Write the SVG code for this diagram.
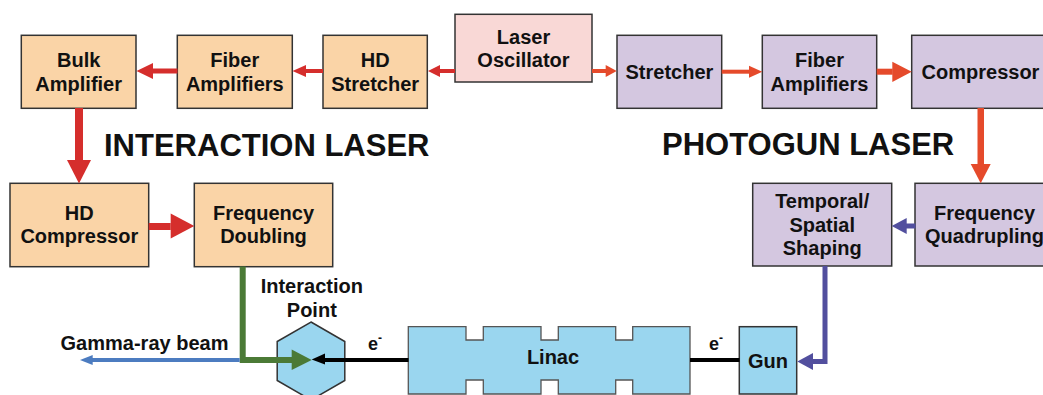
<svg xmlns="http://www.w3.org/2000/svg" width="1043" height="395" viewBox="0 0 1043 395">
<style>
.box{stroke:#333;stroke-width:1.5}
.or{fill:#fad4a7}
.pu{fill:#d4c7e0}
.pk{fill:#f9d8d6}
.bl{fill:#9ad6ef}
text{font-family:"Liberation Sans",Arial,sans-serif;font-weight:bold;fill:#111}
.t{font-size:20px;text-anchor:middle}
.big{font-size:31px}
</style>
<rect width="1043" height="395" fill="#fff"/>
<g id="bulk-amplifier"><rect class="box or" x="21.3" y="35.3" width="114.7" height="73"/><text class="t" x="78.7" y="67">Bulk</text><text class="t" x="78.7" y="91">Amplifier</text></g>
<g id="fiber-amplifiers-int"><rect class="box or" x="177.3" y="35.3" width="115" height="73"/><text class="t" x="234.8" y="67">Fiber</text><text class="t" x="234.8" y="91">Amplifiers</text></g>
<g id="hd-stretcher"><rect class="box or" x="323" y="35.3" width="104.3" height="73"/><text class="t" x="375.2" y="67">HD</text><text class="t" x="375.2" y="91">Stretcher</text></g>
<g id="laser-oscillator"><rect class="box pk" x="455" y="14.3" width="137" height="67.7"/><text class="t" x="523.5" y="44">Laser</text><text class="t" x="523.5" y="67">Oscillator</text></g>
<g id="stretcher"><rect class="box pu" x="617" y="35.3" width="104.7" height="73"/><text class="t" x="669.4" y="79">Stretcher</text></g>
<g id="fiber-amplifiers-pg"><rect class="box pu" x="762.3" y="35.3" width="114.4" height="73"/><text class="t" x="819.5" y="67">Fiber</text><text class="t" x="819.5" y="91">Amplifiers</text></g>
<g id="compressor"><rect class="box pu" x="911.7" y="35.3" width="139" height="73"/><text class="t" x="980.5" y="78.5">Compressor</text></g>
<g id="hd-compressor"><rect class="box or" x="10" y="183.3" width="138.7" height="83.4"/><text class="t" x="79.3" y="220">HD</text><text class="t" x="79.3" y="243.3">Compressor</text></g>
<g id="frequency-doubling"><rect class="box or" x="194.3" y="183.3" width="138.4" height="83.4"/><text class="t" x="263.5" y="220">Frequency</text><text class="t" x="263.5" y="243.3">Doubling</text></g>
<g id="temporal-spatial-shaping"><rect class="box pu" x="752.7" y="183.3" width="139" height="82.7"/><text class="t" x="822.2" y="208.3">Temporal/</text><text class="t" x="822.2" y="231.5">Spatial</text><text class="t" x="822.2" y="254.5">Shaping</text></g>
<g id="frequency-quadrupling"><rect class="box pu" x="915" y="183.3" width="140" height="82.7"/><text class="t" x="984.5" y="220">Frequency</text><text class="t" x="984.5" y="243.3">Quadrupling</text></g>
<g id="interaction-point"><polygon class="box bl" points="311,322 344.8,341.5 344.8,380.5 311,400 277.2,380.5 277.2,341.5"/><text class="t" x="311.8" y="293.3">Interaction</text><text class="t" x="311.8" y="316.7">Point</text></g>
<g id="linac"><path class="bl" stroke="#555" stroke-width="1.3" d="M408.3,326.7 H466 V340 H483.3 V326.7 H541 V340 H558.3 V326.7 H615.7 V340 H632.7 V326.7 H690 V394 H632.7 V380 H615.7 V394 H558.3 V380 H541 V394 H483.3 V380 H466 V394 H408.3 Z"/><text class="t" x="553" y="364">Linac</text></g>
<g id="gun"><rect class="box bl" x="739.3" y="326.7" width="57.4" height="67.3"/><text class="t" x="768" y="368.3">Gun</text></g>
<g id="connectors">
  <g fill="#d52e2c" stroke="none">
    <rect x="440" y="69" width="15" height="4"/>
    <polygon points="440,65 440,77 428,71"/>
    <rect x="306" y="69" width="17" height="4"/>
    <polygon points="306,65 306,77 292.5,71"/>
    <rect x="153" y="68.5" width="24.5" height="5"/>
    <polygon points="153,63 153,79 136.5,71"/>
    <rect x="75" y="108" width="8" height="52"/>
    <polygon points="67,160 91,160 79,183.5"/>
    <rect x="148.7" y="223" width="22" height="7"/>
    <polygon points="170.7,213.5 170.7,238.5 194.3,226"/>
  </g>
  <g fill="#e54a2b" stroke="none">
    <rect x="592" y="69" width="14" height="4"/>
    <polygon points="605.7,65 605.7,77 616.7,71"/>
    <rect x="721.7" y="69.7" width="28" height="4"/>
    <polygon points="749,65.7 749,77.7 762.3,71.7"/>
    <rect x="876.7" y="68.7" width="16" height="6"/>
    <polygon points="892.3,61.7 892.3,82 911.7,71.8"/>
    <rect x="977.5" y="108" width="6.5" height="56.5"/>
    <polygon points="970.7,164 990.7,164 980.7,183.3"/>
  </g>
  <g fill="#524f9e" stroke="none">
    <rect x="906" y="223.5" width="9.5" height="5"/>
    <polygon points="906.7,218 906.7,234 891.7,226"/>
    <path d="M822.5,266 V359 H813 V364 H827.5 V266 Z"/>
    <polygon points="813,353 813,370 797.3,361.5"/>
  </g>
  <g fill="#4b7a36" stroke="none">
    <path d="M239.7,266.5 V363 H292 V357 H245.7 V266.5 Z"/>
    <polygon points="291.7,349.5 291.7,370 311.7,360"/>
  </g>
  <g fill="#4c7cc0" stroke="none">
    <rect x="92" y="358" width="147.7" height="4"/>
    <polygon points="92.7,355 92.7,365 80,360"/>
  </g>
  <g fill="#000" stroke="none">
    <rect x="324" y="358" width="84.5" height="4"/>
    <polygon points="325,353.5 325,364.5 311.7,359.5"/>
    <rect x="690" y="358" width="49.5" height="4"/>
  </g>
</g>
<g id="labels">
  <text class="big" x="104" y="155.7">INTERACTION LASER</text>
  <text class="big" x="662" y="155">PHOTOGUN LASER</text>
  <text class="t" x="144.5" y="350">Gamma-ray beam</text>
  <text x="368" y="350" font-size="18">e<tspan font-size="12" dy="-8">-</tspan></text>
  <text x="709" y="350" font-size="18">e<tspan font-size="12" dy="-8">-</tspan></text>
</g>
</svg>
